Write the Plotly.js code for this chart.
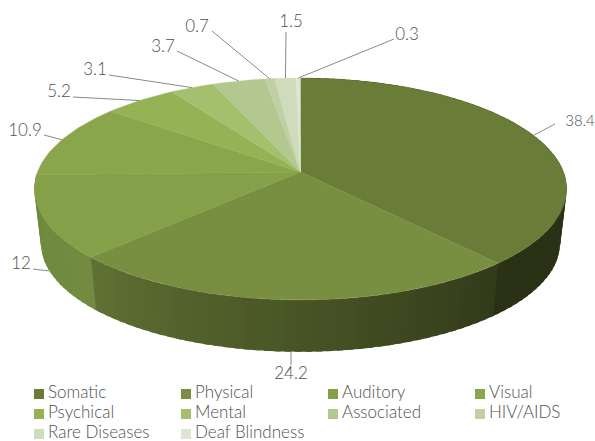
<!DOCTYPE html>
<html>
<head>
<meta charset="utf-8">
<script src="https://cdn.plot.ly/plotly-3.0.1.min.js"></script>
<style>html,body{margin:0;padding:0;background:#fff}#chart{width:595px;height:441px}</style>
</head>
<body>
<div id="chart"></div>
<script>
// Share of disability types, in percent, clockwise from twelve o'clock.
const categories = ['Somatic', 'Physical', 'Auditory', 'Visual', 'Psychical', 'Mental', 'Associated', 'HIV/AIDS', 'Rare Diseases', 'Deaf Blindness'];
const shares = [38.4, 24.2, 12, 10.9, 5.2, 3.1, 3.7, 0.7, 1.5, 0.3];
const valueLabels = ['38.4', '24.2', '12', '10.9', '5.2', '3.1', '3.7', '0.7', '1.5', '0.3'];

// Slice fills, legend swatches use the same ones.
const faceColors = ['#697d39', '#788f42', '#84a049', '#8aa64c', '#95b355', '#a4bf6e', '#b3c88f', '#bfd0a5', '#cfdcbb', '#dde6d0'];

// Rim shading: for each slice with a visible rim, the shade at its start and end angle.
const rimShades = {
  0: ['#2a3014', '#2b3115'],
  1: ['#333a1a', '#5f7233'],
  2: ['#728b40', '#6d883b']
};

// Where each value label sits, its size, and the point its leader line leaves from.
const labelAt = [[580, 122], [291, 375], [21, 265], [25, 132], [59, 93], [95, 71], [163, 48], [197, 28], [291, 23], [407, 36]];
const labelSize = [15, 17, 17, 17, 17, 17, 17, 17, 17, 17];
const leaderFrom = [[555, 124], [291, 365], [33, 269], [44, 135], [73, 97], [109, 75], [177, 51], [212, 31], [286, 32], [394, 39]];

// Disc projection: a unit circle seen in perspective.
const disc = {cx: 300.5, cy: 172, a: 263, b: 108.4, k: 0.153, drop: 55, shrink: 0.975};
const project = (deg) => {
  const t = deg * Math.PI / 180;
  const u = Math.sin(t), v = Math.cos(t), d = 1 + disc.k * v;
  return [disc.cx + disc.a * u / d, disc.cy - disc.b * v / d];
};
const lower = (deg) => {
  const p = project(deg);
  return [disc.cx + disc.shrink * (p[0] - disc.cx), disc.cy + disc.drop + disc.shrink * (p[1] - disc.cy)];
};

const hex = (c) => [1, 3, 5].map(i => parseInt(c.slice(i, i + 2), 16));
const mix = (a, b, f) => {
  const x = hex(a), y = hex(b);
  return 'rgb(' + x.map((q, i) => Math.round(q + (y[i] - q) * f)).join(',') + ')';
};

const total = shares.reduce((s, v) => s + v, 0);
const edges = [0];
shares.forEach(v => edges.push(edges[edges.length - 1] + v / total * 360));

const traces = [];

// Rim: narrow quads along the front of the disc, each overlapping the next so no seam shows.
Object.keys(rimShades).forEach(key => {
  const i = +key, from = edges[i], to = Math.min(edges[i + 1], 277);
  const steps = Math.max(2, Math.round((to - from) / 2));
  for (let s = steps - 1; s >= 0; s--) {
    const a = from + (to - from) * s / steps;
    const b = Math.min(to + 0.8, from + (to - from) * (s + 1.6) / steps);
    const p = [project(a), project(b), lower(b), lower(a), project(a)];
    const c = mix(rimShades[i][0], rimShades[i][1], (s + 0.5) / steps);
    traces.push({
      type: 'scatter', mode: 'none', x: p.map(q => q[0]), y: p.map(q => q[1]),
      fill: 'toself', fillcolor: c, hoverinfo: 'skip', showlegend: false
    });
  }
});

// Top face of every slice.
shares.forEach((v, i) => {
  const xs = [disc.cx], ys = [disc.cy];
  const n = Math.max(4, Math.ceil((edges[i + 1] - edges[i]) / 1.5));
  for (let s = 0; s <= n; s++) {
    const p = project(edges[i] + (edges[i + 1] - edges[i]) * s / n);
    xs.push(p[0]); ys.push(p[1]);
  }
  xs.push(disc.cx); ys.push(disc.cy);
  traces.push({
    type: 'scatter', mode: 'lines', x: xs, y: ys, name: categories[i], fill: 'toself',
    fillcolor: faceColors[i], line: {color: faceColors[i], width: 0.4}, showlegend: false,
    text: categories[i] + ': ' + v, hoverinfo: 'text'
  });
});

// Leader lines: the three front slices end on the rim's lower edge.
shares.forEach((v, i) => {
  const mid = (edges[i] + edges[i + 1]) / 2;
  const end = (mid > 90 && mid < 270) ? lower(mid) : project(mid);
  traces.push({
    type: 'scatter', mode: 'lines', x: [leaderFrom[i][0], end[0]], y: [leaderFrom[i][1], end[1]],
    line: {color: '#8a8a8a', width: 1}, hoverinfo: 'skip', showlegend: false
  });
});

// Value labels.
const font = {family: 'Lato, sans-serif', size: 17, color: '#505050', weight: 300};
traces.push({
  type: 'scatter', mode: 'text', x: labelAt.map(p => p[0]), y: labelAt.map(p => p[1]),
  text: valueLabels, textposition: 'middle center',
  textfont: Object.assign({}, font, {size: labelSize}), hoverinfo: 'skip', showlegend: false
});

// Four-column key below the disc.
const key = {x: [39, 186, 333, 480], y: [394, 414, 434]};
const keyX = categories.map((_, i) => key.x[i % 4]);
const keyY = categories.map((_, i) => key.y[Math.floor(i / 4)]);
traces.push({
  type: 'scatter', mode: 'markers', x: keyX, y: keyY,
  marker: {symbol: 'square', size: 10, color: faceColors, line: {width: 0}}, hoverinfo: 'skip', showlegend: false
});
traces.push({
  type: 'scatter', mode: 'text', x: keyX.map(x => x + 9), y: keyY, text: categories,
  textposition: 'middle right', textfont: font, hoverinfo: 'skip', showlegend: false
});

const hidden = {visible: false, fixedrange: true};
Plotly.newPlot('chart', traces, {
  width: 595, height: 441, margin: {l: 0, r: 0, t: 0, b: 0},
  paper_bgcolor: '#ffffff', plot_bgcolor: '#ffffff', showlegend: false,
  xaxis: Object.assign({range: [0, 595]}, hidden),
  yaxis: Object.assign({range: [441, 0]}, hidden)
}, {displayModeBar: false, staticPlot: true});
</script>
</body>
</html>
